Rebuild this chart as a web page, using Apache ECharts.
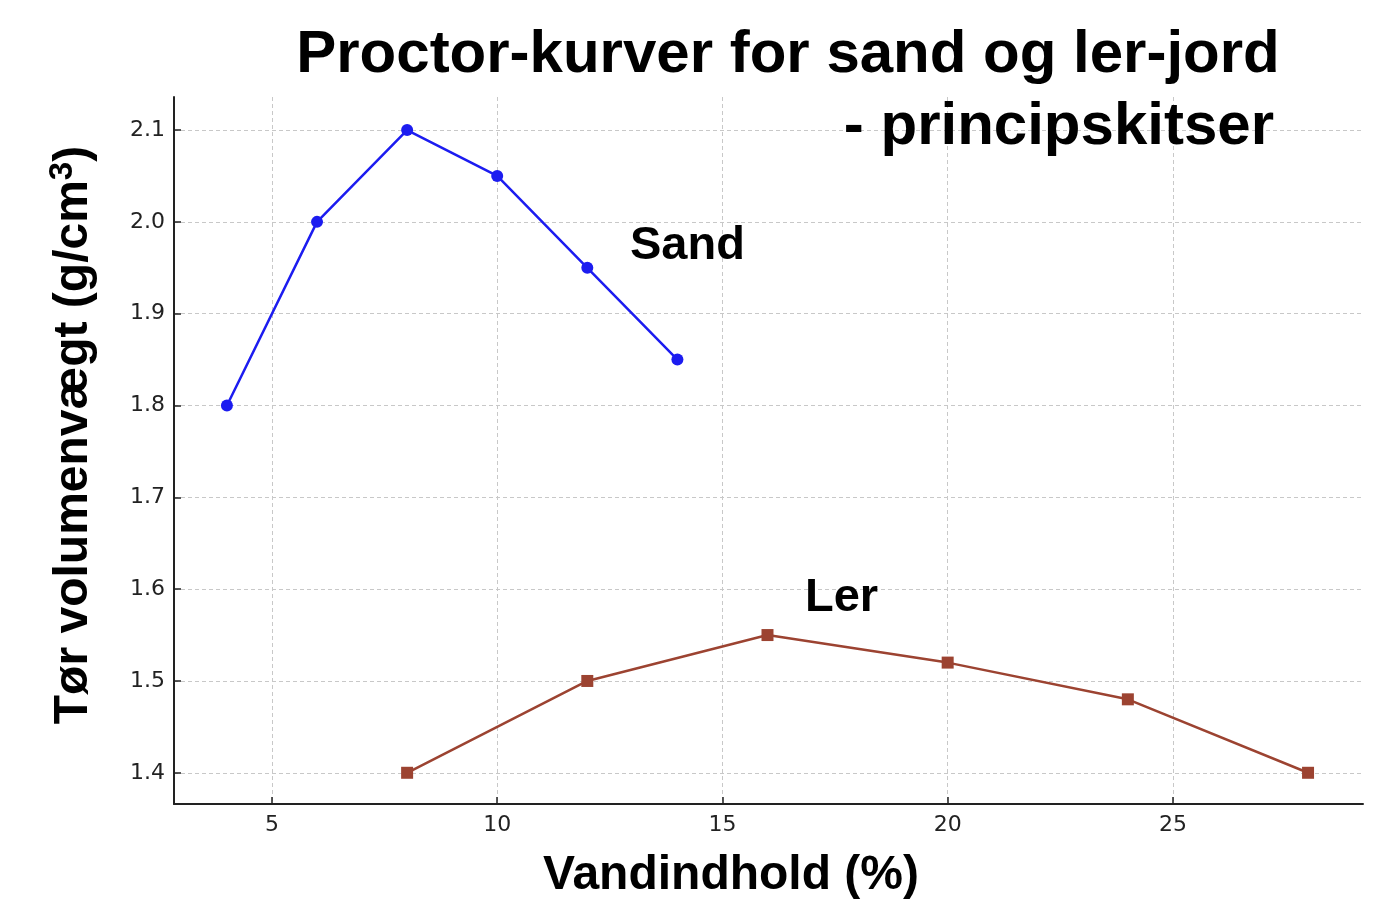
<!DOCTYPE html>
<html>
<head>
<meta charset="utf-8">
<script src="https://cdn.jsdelivr.net/npm/echarts@6/dist/echarts.min.js"></script>
<style>
html,body{margin:0;padding:0;background:#fff;}
#chart{width:1389px;height:922px;}
</style>
</head>
<body>
<div id="chart"></div>
<script>
// Data
const sandWater = [4, 6, 8, 10, 12, 14];
const sandDensity = [1.80, 2.00, 2.10, 2.05, 1.95, 1.85];
const lerWater = [8, 12, 16, 20, 24, 28];
const lerDensity = [1.40, 1.50, 1.55, 1.52, 1.48, 1.40];
const xTicks = [5, 10, 15, 20, 25];
const yTicks = [1.4, 1.5, 1.6, 1.7, 1.8, 1.9, 2.0, 2.1];
const titleLine1 = 'Proctor-kurver for sand og ler-jord';
const titleLine2 = '- principskitser';
const xName = 'Vandindhold (%)';
const yName = 'Tør volumenvægt (g/cm{sup|3})';
const sandLabel = 'Sand';
const lerLabel = 'Ler';

const sandData = sandWater.map((x, i) => [x, sandDensity[i]]);
const lerData = lerWater.map((x, i) => [x, lerDensity[i]]);

const chart = echarts.init(document.getElementById('chart'), null, {renderer: 'canvas'});
const axisColor = '#222222';
const tickFont = {fontFamily: 'DejaVu Sans', fontSize: 22, color: '#222222'};
const boldFont = 'Liberation Sans';

chart.setOption({
  animation: false,
  backgroundColor: '#ffffff',
  grid: {left: 174, right: 26, top: 97, bottom: 118, containLabel: false},
  xAxis: {
    type: 'value',
    min: 2.825, max: 29.22,
    axisLine: {show: true, onZero: false, lineStyle: {color: axisColor, width: 2}},
    axisTick: {show: true, inside: true, length: 7, customValues: xTicks, lineStyle: {color: axisColor, width: 1.5}},
    axisLabel: Object.assign({customValues: xTicks, margin: 10, formatter: v => String(v)}, tickFont),
    splitLine: {show: true, lineStyle: {color: '#c8c8c8', width: 1, type: [4, 3]}}
  },
  yAxis: {
    type: 'value',
    min: 1.366, max: 2.136,
    axisLine: {show: true, onZero: false, lineStyle: {color: axisColor, width: 2}},
    axisTick: {show: true, inside: true, length: 7, customValues: yTicks, lineStyle: {color: axisColor, width: 1.5}},
    axisLabel: Object.assign({customValues: yTicks, margin: 9, formatter: v => v.toFixed(1)}, tickFont),
    splitLine: {show: true, lineStyle: {color: '#c8c8c8', width: 1, type: [4, 3]}}
  },
  series: [
    {
      name: sandLabel, type: 'line', data: sandData,
      symbol: 'circle', symbolSize: 12,
      lineStyle: {color: '#1c1cf0', width: 2.5},
      itemStyle: {color: '#1c1cf0'},
      z: 3
    },
    {
      name: lerLabel, type: 'line', data: lerData,
      symbol: 'rect', symbolSize: 12,
      lineStyle: {color: '#9c4331', width: 2.5},
      itemStyle: {color: '#9c4331'},
      z: 3
    }
  ],
  graphic: [
    {type: 'text', x: 788, y: 55, z: 10,
     style: {text: titleLine1, align: 'center', verticalAlign: 'middle', fontFamily: boldFont, fontWeight: 'bold', fontSize: 60, fill: '#000'}},
    {type: 'text', x: 1274, y: 127, z: 10,
     style: {text: titleLine2, align: 'right', verticalAlign: 'middle', fontFamily: boldFont, fontWeight: 'bold', fontSize: 60, fill: '#000'}},
    {type: 'text', x: 731, y: 876, z: 10,
     style: {text: xName, align: 'center', verticalAlign: 'middle', fontFamily: boldFont, fontWeight: 'bold', fontSize: 48, fill: '#000'}},
    {type: 'text', x: 74, y: 435, rotation: Math.PI / 2, z: 10,
     style: {text: yName, align: 'center', verticalAlign: 'middle', fontFamily: boldFont, fontWeight: 'bold', fontSize: 48, fill: '#000',
       rich: {sup: {fontFamily: boldFont, fontWeight: 'bold', fontSize: 33, verticalAlign: 'top', fill: '#000', padding: [0, 0, 22, 0]}}}},
    {type: 'text', x: 630, y: 246, z: 10,
     style: {text: sandLabel, align: 'left', verticalAlign: 'middle', fontFamily: boldFont, fontWeight: 'bold', fontSize: 47, fill: '#000'}},
    {type: 'text', x: 805, y: 598, z: 10,
     style: {text: lerLabel, align: 'left', verticalAlign: 'middle', fontFamily: boldFont, fontWeight: 'bold', fontSize: 47, fill: '#000'}}
  ]
});
</script>
</body>
</html>
